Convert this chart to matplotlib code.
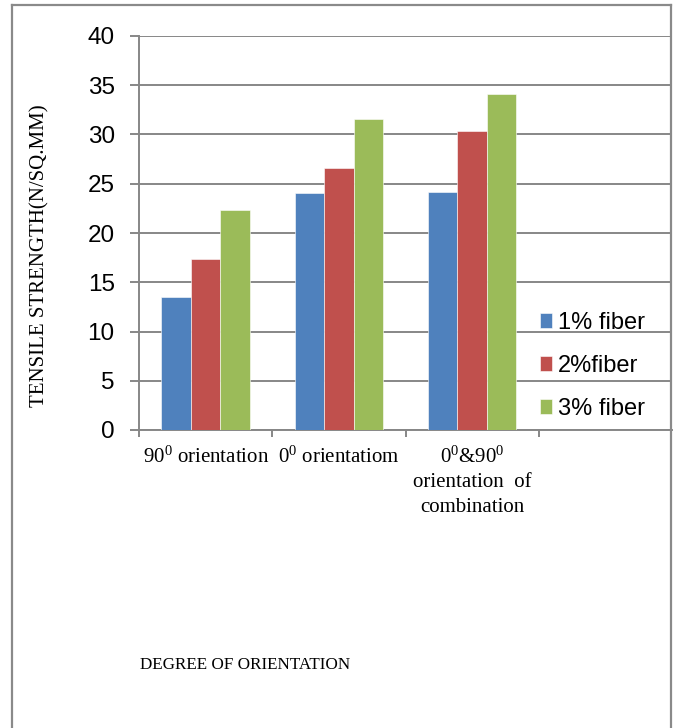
import matplotlib
matplotlib.use("Agg")
import matplotlib.pyplot as plt
import numpy as np
from matplotlib.lines import Line2D

# ---- data ----
categories = ["90$^{0}$ orientation", "0$^{0}$ orientatiom",
              "0$^{0}$&90$^{0}$\norientation  of\ncombination"]
series_names = ["1% fiber", "2%fiber", "3% fiber"]
fiber1 = [13.5, 24.1, 24.2]
fiber2 = [17.4, 26.6, 30.4]
fiber3 = [22.3, 31.6, 34.1]
yticks = [0, 5, 10, 15, 20, 25, 30, 35, 40]
y_label = "TENSILE STRENGTH(N/SQ.MM)"
x_label = "DEGREE OF ORIENTATION"

colors = ["#4F81BD", "#C0504D", "#9BBB59"]
grid_c = "#878787"

plt.rcParams["mathtext.fontset"] = "custom"
plt.rcParams["mathtext.rm"] = "Liberation Serif"
plt.rcParams["mathtext.it"] = "Liberation Serif:italic"
plt.rcParams["mathtext.bf"] = "Liberation Serif:bold"

W, H = 675, 728
fig = plt.figure(figsize=(W / 100, H / 100), dpi=100)
fig.patch.set_facecolor("white")

ax_l, ax_r, ax_t, ax_b = 139, 672, 36, 430
ax = fig.add_axes([ax_l / W, 1 - ax_b / H, (ax_r - ax_l) / W, (ax_b - ax_t) / H])

x = np.arange(len(categories))
bw = 0.222
series = [fiber1, fiber2, fiber3]
for i, (vals, name, c) in enumerate(zip(series, series_names, colors)):
    ax.bar(x + (i - 1) * bw, vals, width=bw, color=c, label=name,
           edgecolor="white", linewidth=0.4, zorder=3)

ax.set_xlim(-0.5, 3.5)
ax.set_ylim(0, 40)
ax.set_yticks(yticks)
ax.yaxis.grid(True, color=grid_c, linewidth=1.4, zorder=0)
ax.set_axisbelow(True)

sans = ["Liberation Sans", "DejaVu Sans"]
serif = ["Liberation Serif", "DejaVu Serif"]

ax.tick_params(axis="y", direction="out", length=6.5, width=1.4, color=grid_c,
               pad=11, labelsize=17.5)
for lab in ax.get_yticklabels():
    lab.set_fontfamily(sans)

ax.set_xticks(x)
ax.set_xticklabels(categories, fontfamily=serif, fontsize=15, linespacing=1.38,
                   va="top")
ax.set_xticks([-0.5, 0.5, 1.5, 2.5], minor=True)
ax.tick_params(axis="x", which="major", length=0, pad=12)
ax.tick_params(axis="x", which="minor", direction="out", length=5, width=1.4,
               color=grid_c)

for s in ["top", "right"]:
    ax.spines[s].set_visible(False)
for s in ["left", "bottom"]:
    ax.spines[s].set_color(grid_c)
    ax.spines[s].set_linewidth(1.4)

leg = ax.legend(loc="center left",
                bbox_to_anchor=(540 / W, 1 - 366 / H),
                bbox_transform=fig.transFigure,
                frameon=False, prop={"family": sans, "size": 17},
                handlelength=0.5, handleheight=0.6, handletextpad=0.25,
                labelspacing=0.9, borderaxespad=0, borderpad=0)

fig.text(40 / W, 1 - 256 / H, y_label, rotation=90, ha="center", va="center",
         fontfamily=serif, fontsize=15)
fig.text(245 / W, 1 - 665 / H, x_label, ha="center", va="center",
         fontfamily=serif, fontsize=12.3)

# outer chart frame
fc = "#8a8a8a"
fl, fr, ft = 11.5, 671, 5
fig.add_artist(Line2D([fl / W, fl / W], [0, 1 - ft / H], transform=fig.transFigure,
                      color=fc, linewidth=1.6))
fig.add_artist(Line2D([fl / W, fr / W], [1 - ft / H, 1 - ft / H],
                      transform=fig.transFigure, color=fc, linewidth=1.6))
fig.add_artist(Line2D([fr / W, fr / W], [0, 1 - ft / H],
                      transform=fig.transFigure, color=fc, linewidth=1.6))

fig.savefig("out.png", dpi=100)
